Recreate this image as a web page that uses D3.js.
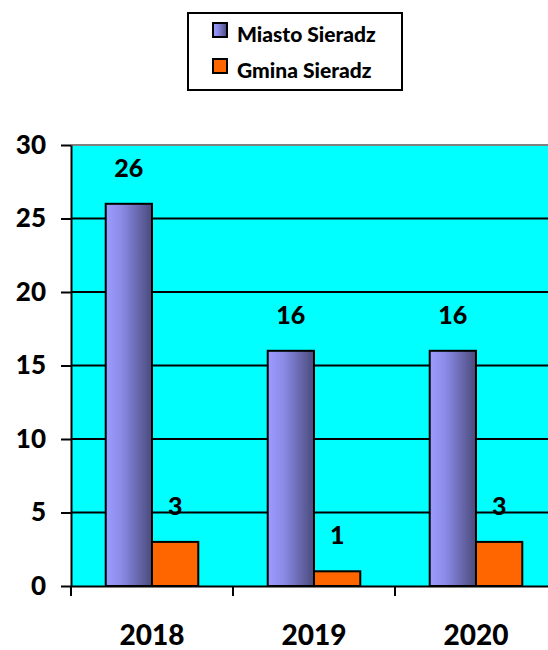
<!DOCTYPE html>
<html>
<head>
<meta charset="utf-8">
<script src="https://cdn.jsdelivr.net/npm/d3@7"></script>
<style>
  body { margin: 0; background: #fff; }
  text { font-family: Lato, "Open Sans", sans-serif; font-weight: 900; }
</style>
</head>
<body>
<div id="chart"></div>
<script>
// data
var years = ["2018", "2019", "2020"];
var seriesNames = ["Miasto Sieradz", "Gmina Sieradz"];
var miasto = [26, 16, 16];
var gmina = [3, 1, 3];
var yTicks = [0, 5, 10, 15, 20, 25, 30];

var svgWidth = 548;
var svgHeight = 650;

var plot = { left: 71, right: 557, top: 145, bottom: 586 };

var svg = d3.select("#chart")
  .append("svg")
  .attr("width", svgWidth)
  .attr("height", svgHeight);

var defs = svg.append("defs");
var grad = defs.append("linearGradient")
  .attr("id", "barGrad")
  .attr("x1", "0%").attr("x2", "100%").attr("y1", "0%").attr("y2", "0%");
grad.append("stop").attr("offset", "0%").attr("stop-color", "#9C9CFF");
grad.append("stop").attr("offset", "35%").attr("stop-color", "#8A8AE6");
grad.append("stop").attr("offset", "100%").attr("stop-color", "#4A4A7C");

var colors = { "Miasto Sieradz": "url(#barGrad)", "Gmina Sieradz": "#FF6600" };

// scales
var x0 = d3.scaleBand()
  .domain(years)
  .range([plot.left, plot.right])
  .paddingInner(0)
  .paddingOuter(0);

var x1 = d3.scaleBand()
  .domain(seriesNames)
  .range([0, x0.bandwidth()])
  .paddingInner(0)
  .paddingOuter(0.75);

var y = d3.scaleLinear()
  .domain([0, 30])
  .range([plot.bottom, plot.top]);

// plot background
svg.append("rect")
  .attr("x", plot.left)
  .attr("y", plot.top)
  .attr("width", plot.right - plot.left)
  .attr("height", plot.bottom - plot.top)
  .attr("fill", "#00FFFF");

// gridlines
svg.append("g")
  .selectAll("line")
  .data(yTicks.filter(d => d > 0))
  .enter()
  .append("line")
  .attr("x1", plot.left)
  .attr("x2", plot.right)
  .attr("y1", d => y(d))
  .attr("y2", d => y(d))
  .attr("stroke", d => d === 30 ? "#808080" : "#000")
  .attr("stroke-width", 2);

// bars
var rows = years.map(function(yr, i) {
  return { year: yr, values: [
    { key: "Miasto Sieradz", value: miasto[i] },
    { key: "Gmina Sieradz", value: gmina[i] }
  ]};
});

var groups = svg.append("g")
  .selectAll("g")
  .data(rows)
  .enter()
  .append("g")
  .attr("transform", d => `translate(${x0(d.year)},0)`);

groups.selectAll("rect")
  .data(d => d.values)
  .enter()
  .append("rect")
  .attr("x", d => x1(d.key))
  .attr("y", d => y(d.value))
  .attr("width", x1.bandwidth())
  .attr("height", d => y(0) - y(d.value))
  .attr("fill", d => colors[d.key])
  .attr("stroke", "#000")
  .attr("stroke-width", 2);

groups.selectAll("text")
  .data(d => d.values)
  .enter()
  .append("text")
  .attr("x", d => x1(d.key) + x1.bandwidth() / 2)
  .attr("y", d => y(d.value) - 27)
  .attr("text-anchor", "middle")
  .attr("font-size", 25)
  .attr("fill", "#000")
  .text(d => d.value);

// axes
var leftAxis = d3.axisLeft(y)
  .tickValues(yTicks)
  .tickSize(10)
  .tickPadding(15)
  .tickSizeOuter(0);

var yAxisG = svg.append("g")
  .attr("transform", `translate(${plot.left},0)`)
  .call(leftAxis);
yAxisG.select(".domain").attr("stroke", "#000").attr("stroke-width", 2);
yAxisG.selectAll(".tick line").attr("stroke", "#000").attr("stroke-width", 2);
yAxisG.selectAll("text")
  .attr("font-size", 26)
  .attr("font-family", "Lato, sans-serif")
  .attr("font-weight", 900)
  .attr("fill", "#000");

var bottomAxis = d3.axisBottom(x0)
  .tickSize(0)
  .tickPadding(0);

var xAxisG = svg.append("g")
  .attr("transform", `translate(0,${plot.bottom})`)
  .call(bottomAxis);
xAxisG.select(".domain").attr("stroke", "#000").attr("stroke-width", 2);
xAxisG.selectAll("text")
  .attr("dy", null)
  .attr("y", 59)
  .attr("font-size", 28)
  .attr("font-family", "Lato, sans-serif")
  .attr("font-weight", 900)
  .attr("fill", "#000");

// category boundary ticks
xAxisG.selectAll(".bound")
  .data(years.concat(["end"]))
  .enter()
  .append("line")
  .attr("class", "bound")
  .attr("x1", (d, i) => i < years.length ? x0(d) : plot.right)
  .attr("x2", (d, i) => i < years.length ? x0(d) : plot.right)
  .attr("y1", 0)
  .attr("y2", 10)
  .attr("stroke", "#000")
  .attr("stroke-width", 2);

// legend
var legend = svg.append("g").attr("transform", "translate(188,13)");
legend.append("rect")
  .attr("width", 214)
  .attr("height", 77)
  .attr("fill", "#fff")
  .attr("stroke", "#000")
  .attr("stroke-width", 2);

var legendItems = legend.selectAll(".item")
  .data(seriesNames)
  .enter()
  .append("g")
  .attr("class", "item")
  .attr("transform", (d, i) => `translate(25,${10 + i * 36})`);

legendItems.append("rect")
  .attr("width", 14)
  .attr("height", 14)
  .attr("fill", d => colors[d])
  .attr("stroke", "#000")
  .attr("stroke-width", 2);

legendItems.append("text")
  .attr("x", 24)
  .attr("y", 19)
  .attr("font-size", 21)
  .attr("fill", "#000")
  .text(d => d);
</script>
</body>
</html>
